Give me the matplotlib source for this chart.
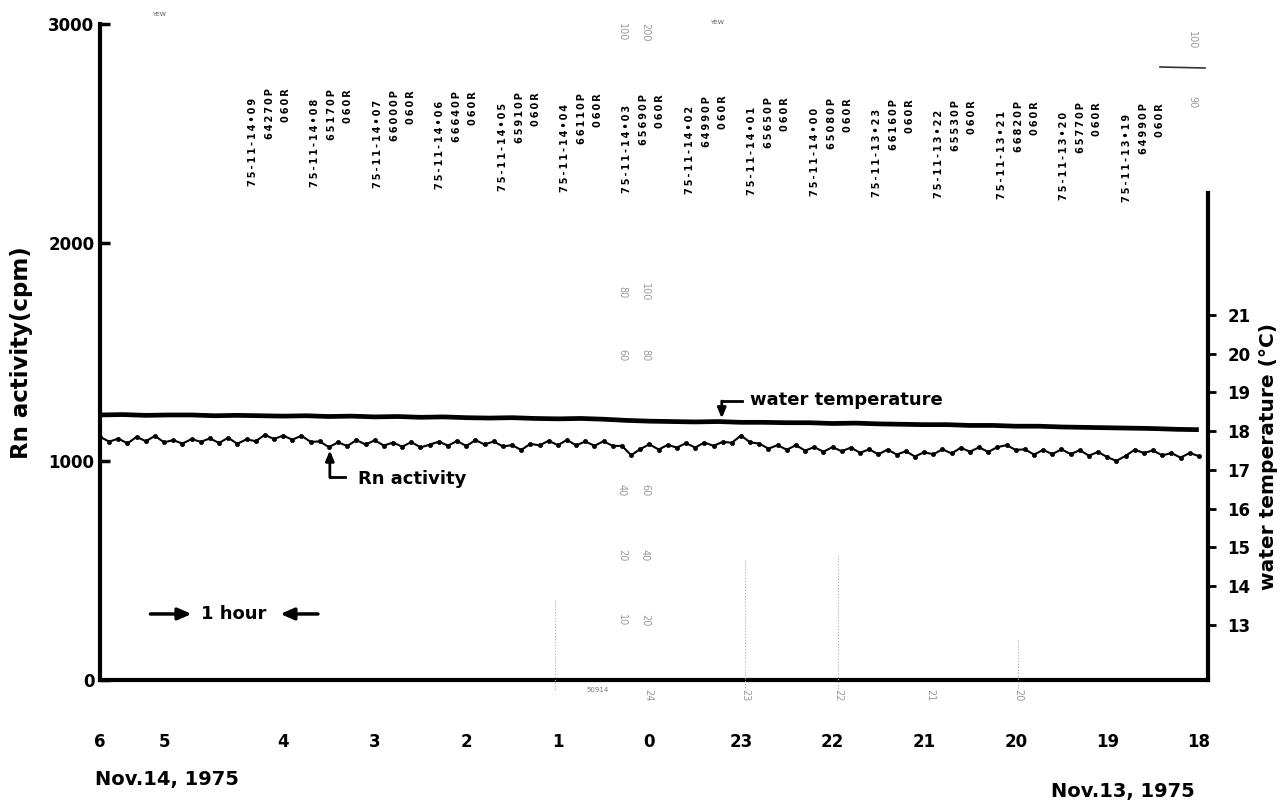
import matplotlib
matplotlib.use("Agg")
import matplotlib.pyplot as plt
from matplotlib.lines import Line2D
import numpy as np

W, H = 1283, 807

# time axis runs right-to-left: hours after 18:00 Nov.13
hour_labels = ['6', '5', '4', '3', '2', '1', '0', '23', '22', '21', '20', '19', '18']
hour_ticks = [12, 11.3, 10, 9, 8, 7, 6, 5, 4, 3, 2, 1, 0]

# Rn activity (cpm), one reading every 6 min from 06:00 back to 18:00
rn_cpm = [1112, 1090, 1104, 1082, 1112, 1092, 1116, 1087, 1097, 1081,
          1102, 1089, 1105, 1084, 1108, 1080, 1101, 1092, 1121, 1102,
          1118, 1099, 1117, 1089, 1091, 1065, 1087, 1070, 1097, 1077,
          1096, 1072, 1086, 1067, 1088, 1064, 1076, 1090, 1072, 1093,
          1070, 1097, 1077, 1091, 1068, 1074, 1052, 1080, 1073, 1094,
          1074, 1098, 1073, 1091, 1071, 1092, 1070, 1071, 1028, 1056,
          1078, 1054, 1075, 1063, 1083, 1063, 1086, 1071, 1089, 1085,
          1118, 1087, 1081, 1058, 1074, 1053, 1074, 1049, 1065, 1044,
          1065, 1046, 1063, 1039, 1055, 1032, 1054, 1031, 1046, 1022,
          1042, 1032, 1055, 1036, 1062, 1044, 1064, 1043, 1065, 1074,
          1052, 1055, 1031, 1052, 1033, 1055, 1033, 1051, 1026, 1043,
          1019, 1002, 1025, 1053, 1038, 1050, 1027, 1038, 1017, 1038,
          1024]
rn_hours = np.linspace(12, 0, len(rn_cpm))

# water temperature (deg C), every 15 min
water_temp = [18.42, 18.43, 18.41, 18.42, 18.42, 18.40, 18.41, 18.40, 18.39, 18.40,
              18.38, 18.39, 18.37, 18.38, 18.36, 18.37, 18.35, 18.34, 18.35, 18.33,
              18.32, 18.33, 18.31, 18.28, 18.26, 18.25, 18.24, 18.25, 18.23, 18.23,
              18.22, 18.22, 18.20, 18.21, 18.19, 18.18, 18.17, 18.17, 18.15, 18.15,
              18.13, 18.13, 18.11, 18.10, 18.09, 18.08, 18.07, 18.05, 18.04]
temp_hours = np.linspace(12, 0, len(water_temp))

rn_ticks = [0, 1000, 2000, 3000]
temp_ticks = [13, 14, 15, 16, 17, 18, 19, 20, 21]

# printer stamps along the top of the chart paper
stamp_times = ['75-11-14•09', '75-11-14•08', '75-11-14•07', '75-11-14•06', '75-11-14•05',
               '75-11-14•04', '75-11-14•03', '75-11-14•02', '75-11-14•01', '75-11-14•00',
               '75-11-13•23', '75-11-13•22', '75-11-13•21', '75-11-13•20', '75-11-13•19']
stamp_counts = ['64270P', '65170P', '66000P', '66640P', '65910P',
                '66110P', '65690P', '64990P', '65650P', '65080P',
                '66160P', '65530P', '66820P', '65770P', '64990P']
stamp_flag = '060R'


def fx(x):
    return x / W


def fy(y):
    return 1 - y / H


fig = plt.figure(figsize=(W / 100, H / 100), dpi=100)
ax = fig.add_axes([fx(100), fy(680), (1208 - 100) / W, (680 - 24) / H])
ax2 = ax.twinx()

ax.set_xlim(12, -0.1)
ax.set_ylim(0, 3000)
ax2.set_ylim(11.58, 28.51)

for s in ['top', 'right']:
    ax.spines[s].set_visible(False)
for s in ['top', 'left', 'bottom']:
    ax2.spines[s].set_visible(False)
ax.spines['left'].set_linewidth(3)
ax.spines['bottom'].set_linewidth(3)
ax2.spines['right'].set_linewidth(3)
ax2.spines['right'].set_bounds(11.58, 24.15)

# data
ax.plot(rn_hours, rn_cpm, color='k', lw=1.5, marker='o', ms=3, mec='k', mew=0.5)
ax2.plot(temp_hours, water_temp, color='k', lw=3.4, solid_capstyle='butt')

# ticks
ax.set_yticks(rn_ticks)
ax.set_yticklabels([str(v) for v in rn_ticks], fontsize=12, fontweight='bold')
ax.tick_params(axis='y', direction='in', length=7, width=2.5, pad=4)
ax.set_xticks(hour_ticks)
ax.set_xticklabels(hour_labels, fontsize=12, fontweight='bold')
ax.tick_params(axis='x', length=0, pad=38)
ax2.set_yticks(temp_ticks)
ax2.set_yticklabels([str(v) for v in temp_ticks], fontsize=12, fontweight='bold')
ax2.tick_params(axis='y', direction='out', length=6, width=2, pad=8)

# axis titles
fig.text(fx(22), fy(353), 'Rn activity(cpm)', rotation=90, ha='center', va='center',
         fontsize=16.5, fontweight='bold')
fig.text(fx(1268), fy(457), 'water temperature (\u00b0C)', rotation=90, ha='center',
         va='center', fontsize=14.5, fontweight='bold')

# curve labels
arrow = dict(arrowstyle='-|>,head_width=0.25,head_length=0.6', lw=2, color='k',
             shrinkA=0, shrinkB=0)
ax2.plot([4.99, 5.21], [18.78, 18.78], color='k', lw=2)
ax2.annotate('', xy=(5.21, 18.33), xytext=(5.21, 18.78), arrowprops=arrow)
ax2.text(4.90, 18.80, 'water temperature', ha='left', va='center', fontsize=13,
         fontweight='bold')

ax.plot([9.49, 9.32], [928, 928], color='k', lw=2)
ax.annotate('', xy=(9.49, 1050), xytext=(9.49, 928), arrowprops=arrow)
ax.text(9.18, 918, 'Rn activity', ha='left', va='center', fontsize=13, fontweight='bold')

big_arrow = dict(arrowstyle='-|>,head_width=0.35,head_length=0.8', lw=2.5, color='k',
                 shrinkA=0, shrinkB=0)
ax.annotate('', xy=(11.0, 302), xytext=(11.45, 302), arrowprops=big_arrow)
ax.annotate('', xy=(10.03, 302), xytext=(9.62, 302), arrowprops=big_arrow)
ax.text(10.54, 302, '1 hour', ha='center', va='center', fontsize=13, fontweight='bold')

# dates
fig.text(fx(95), fy(780), 'Nov.14, 1975', ha='left', va='center', fontsize=14,
         fontweight='bold')
fig.text(fx(1195), fy(792), 'Nov.13, 1975', ha='right', va='center', fontsize=14,
         fontweight='bold')

# printer stamps
for i, (t, c) in enumerate(zip(stamp_times, stamp_counts)):
    x0 = 253 + 62.4 * i
    top = 88 + 1.1 * i
    for dx, dy, s in [(0, 10, t), (17, 0, c), (33, 0, stamp_flag)]:
        fig.text(fx(x0 + dx), fy(top + dy), '\u2009'.join(s), rotation=90,
                 rotation_mode='anchor', ha='right', va='center', fontsize=7,
                 fontweight='bold')

# faint chart-paper markings
grey = '#9a9a9a'
for x, y, s in [(622, 32, '100'), (645, 32, '200'), (1192, 40, '100'), (1192, 102, '90'),
                (622, 292, '80'), (645, 292, '100'), (622, 355, '60'), (645, 355, '80'),
                (622, 490, '40'), (645, 490, '60'), (622, 555, '20'), (645, 555, '40'),
                (622, 620, '10'), (645, 620, '20'), (648, 695, '24'), (745, 695, '23'),
                (838, 695, '22'), (930, 695, '21'), (1018, 695, '20')]:
    fig.text(fx(x), fy(y), s, rotation=270, ha='center', va='center', fontsize=7,
             color=grey)
for x, y in [(160, 14), (718, 22)]:
    fig.text(fx(x), fy(y), 'YEW', ha='center', va='center', fontsize=4.5, color='#555555')
fig.text(fx(598), fy(690), '50914', ha='center', va='center', fontsize=5, color='#777777')
for x, y0, y1 in [(555, 600, 690), (745, 560, 690), (838, 555, 690), (1018, 640, 690)]:
    fig.add_artist(Line2D([fx(x), fx(x)], [fy(y0), fy(y1)], color='#b0b0b0', lw=0.8,
                          ls=':'))
fig.add_artist(Line2D([fx(1160), fx(1205)], [fy(67), fy(68)], color='#333333', lw=1.2))

fig.savefig('out.png', dpi=100)
